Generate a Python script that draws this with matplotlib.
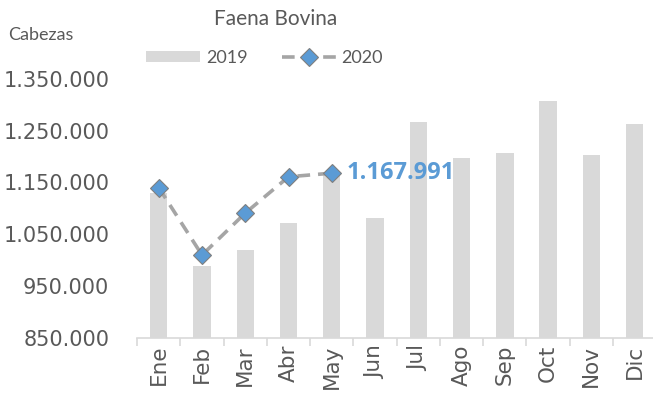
import numpy as np
import matplotlib
matplotlib.use("Agg")
import matplotlib.pyplot as plt
from matplotlib.ticker import FuncFormatter

# === DATA ===
meses = ["Ene", "Feb", "Mar", "Abr", "May", "Jun", "Jul", "Ago", "Sep", "Oct", "Nov", "Dic"]
faena_2019 = [1130000, 989000, 1020000, 1072000, 1165000, 1082000,
              1267000, 1197000, 1207000, 1308000, 1203000, 1263000]
faena_2020 = [1140000, 1010000, 1091000, 1161000, 1167991]
yticks = [850000, 950000, 1050000, 1150000, 1250000, 1350000]

GRIS = "#595959"
BARRA = "#D9D9D9"
AZUL = "#5B9BD5"

fig = plt.figure(figsize=(6.53, 4.0), dpi=100)
ax = fig.add_axes([0.21, 0.155, 0.795, 0.648])

x = np.arange(len(meses))
barras = ax.bar(x, faena_2019, width=0.4, color=BARRA, label="2019", zorder=2)
x20 = np.arange(len(faena_2020))
linea, = ax.plot(x20, faena_2020, color="#A5A5A5", linestyle=(0, (3.5, 2.2)), linewidth=2.6,
                 marker="D", markersize=9, markerfacecolor=AZUL, markeredgecolor="#7F7F7F",
                 markeredgewidth=0.8, label="2020", zorder=3)

# etiqueta del ultimo dato
ax.annotate("1.167.991", (x20[-1], faena_2020[-1]), xytext=(11, 0),
            textcoords="offset points", va="center", ha="left",
            color=AZUL, fontsize=17, fontweight="bold", family="Open Sans")

ax.set_xlim(-0.5, len(meses) - 0.5)
ax.set_ylim(850000, 1350000)
ax.set_yticks(yticks)
ax.yaxis.set_major_formatter(FuncFormatter(lambda v, p: f"{int(v):,}".replace(",", ".")))
ax.set_xticks(x)
ax.set_xticklabels(meses, rotation=90)
ax.set_xticks(np.arange(-0.5, len(meses), 1), minor=True)

for s in ["top", "right", "left"]:
    ax.spines[s].set_visible(False)
ax.spines["bottom"].set_color(BARRA)
ax.spines["bottom"].set_linewidth(1.2)
ax.tick_params(axis="y", length=0, pad=20, labelsize=15, labelcolor=GRIS)
ax.tick_params(axis="x", which="major", length=0, pad=5, labelsize=15.5, labelcolor=GRIS)
ax.tick_params(axis="x", which="minor", length=6, color=BARRA, width=1.2)

fig.text(0.422, 0.952, "Faena Bovina", ha="center", va="center", fontsize=15,
         color=GRIS, family="Lato")
fig.text(0.012, 0.913, "Cabezas", ha="left", va="center", fontsize=13,
         color=GRIS, family="Lato")

leg = fig.legend(handles=[barras, linea], loc="center", bbox_to_anchor=(0.405, 0.855),
                 ncol=2, frameon=False, prop={"family": "Lato", "size": 13},
                 handlelength=3.0, handleheight=0.6, columnspacing=1.9, handletextpad=0.3)
for t in leg.get_texts():
    t.set_color(GRIS)

fig.savefig("out.png", dpi=100)
